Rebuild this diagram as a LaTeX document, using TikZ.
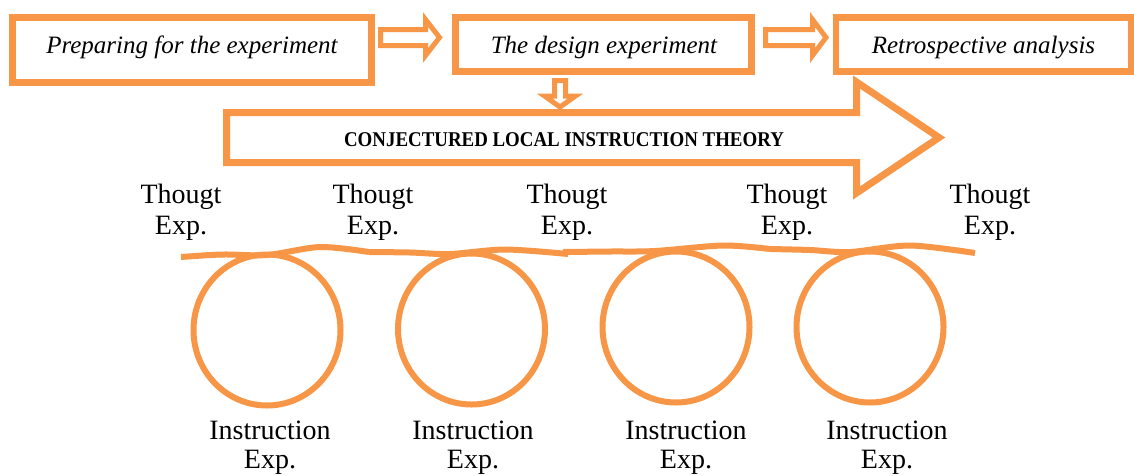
\documentclass[tikz,border=0pt]{standalone}
\usepackage{fontspec}
\setmainfont{Liberation Serif}
\usetikzlibrary{shapes.geometric}
\definecolor{acc}{HTML}{F79646}
\begin{document}
\begin{tikzpicture}[x=1pt,y=-1pt,
  box/.style={draw=acc, line width=6.5pt, rectangle, inner sep=0pt},
  boxtext/.style={font=\fontsize{25}{30}\selectfont\itshape, anchor=base, inner sep=0pt},
  blk/.style={draw=acc, line width=5pt, fill=white, line join=miter},
  big/.style={draw=acc, line width=7pt, fill=white, line join=miter},
  ring/.style={draw=acc, line width=6pt, ellipse, inner sep=0pt, minimum width=147pt, minimum height=151pt},
  loopline/.style={draw=acc, line width=6pt},
  lab/.style={font=\fontsize{28}{30}\selectfont, anchor=base, inner sep=0pt}]
\useasboundingbox (0,0) rectangle (1134,475);
% top boxes
\node[box, minimum width=359pt, minimum height=65pt] (b1) at (192,50) {};
\node[box, minimum width=296pt, minimum height=54pt] (b2) at (603.5,44.5) {};
\node[box, minimum width=295pt, minimum height=54pt] (b3) at (983.5,44.5) {};
\node[boxtext] (t1) at (192,53) {Preparing for the experiment};
\node[boxtext] (t2) at (604,53) {The design experiment};
\node[boxtext] (t3) at (983.5,53) {Retrospective analysis};
% block arrows between boxes
\draw[blk] (380.5,29.5) -- (425.5,29.5) -- (425.5,19.5) -- (439.5,37.5) -- (425.5,55.5) -- (425.5,45.5) -- (380.5,45.5) -- cycle;
\draw[blk] (765.5,29.5) -- (812.5,29.5) -- (812.5,19.5) -- (826,37.5) -- (812.5,55.5) -- (812.5,45.5) -- (765.5,45.5) -- cycle;
% big arrow
\draw[big] (226.5,112.5) -- (856.5,112.5) -- (856.5,82) -- (939,137.5) -- (856.5,193) -- (856.5,162.5) -- (226.5,162.5) -- cycle;
\node[font=\bfseries\fontsize{21}{24}\selectfont, anchor=base, inner sep=0pt] (clit) at (564,146) {\scalebox{0.9}[1]{CONJECTURED LOCAL INSTRUCTION THEORY}};
% down arrow
\draw[blk] (554.5,80.5) -- (565.5,80.5) -- (565.5,96) -- (575.5,96) -- (560,107) -- (544.5,96) -- (554.5,96) -- cycle;
% circles
\node[ring] (c1) at (267,330) {};
\node[ring] (c2) at (471.5,329) {};
\node[ring] (c3) at (676,327) {};
\node[ring] (c4) at (870,327) {};
% loop line
\draw[loopline] plot[smooth] coordinates {(181,257) (222,254.5) (267,255) (320,247) (369,252)};
\draw[loopline] plot[smooth] coordinates {(369,252) (410,252.5) (450,254) (505,249.5) (568,254)};
\draw[loopline] plot[smooth] coordinates {(563,252) (610,251.5) (655,251) (723,245.5) (770,249)};
\draw[loopline] plot[smooth] coordinates {(770,249) (810,250) (850,252) (910,245.5) (975,253)};
% thought labels
\foreach \x [count=\i] in {181,373,567,787,990}{
  \node[lab] (th\i) at (\x,203) {Thougt};
  \node[lab] (te\i) at (\x,234) {Exp.};
}
% instruction labels
\foreach \x [count=\i] in {270,473,686,887}{
  \node[lab] (in\i) at (\x,439) {Instruction};
  \node[lab] (ie\i) at (\x,468.5) {Exp.};
}
\end{tikzpicture}
\end{document}
